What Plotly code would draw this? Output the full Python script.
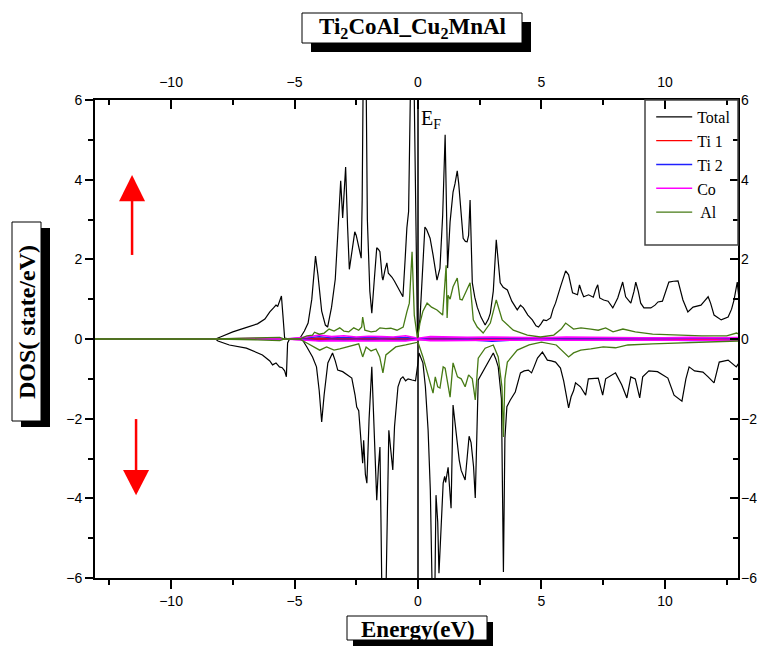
import plotly.graph_objects as go

# ---------------- data ----------------
e_tot_up = [-13.1, -8.2, -8.0, -7.5, -7.0, -6.5, -6.2, -6.0, -5.85, -5.75, -5.68, -5.6, -5.53, -5.47, -5.4, -5.2,
            -4.8, -4.6, -4.45, -4.3, -4.2, -4.15, -4.05, -3.9, -3.75, -3.66, -3.5, -3.35, -3.25, -3.13, -3.05,
            -2.93, -2.85, -2.78, -2.65, -2.56, -2.5, -2.44, -2.36, -2.3, -2.26, -2.22, -2.1, -2.05, -1.95, -1.87,
            -1.78, -1.67, -1.6, -1.54, -1.45, -1.42, -1.33, -1.26, -1.2, -1.14, -1.05, -0.95, -0.8, -0.7, -0.61,
            -0.52, -0.45, -0.38, -0.3, -0.16, -0.1, -0.02, 0.08, 0.18, 0.28, 0.35, 0.49, 0.61, 0.77, 0.89, 1.0,
            1.1, 1.16, 1.2, 1.3, 1.36, 1.42, 1.5, 1.59, 1.65, 1.71, 1.83, 1.92, 1.99, 2.05, 2.11, 2.2, 2.3, 2.4,
            2.55, 2.72, 2.85, 2.93, 3.05, 3.17, 3.25, 3.33, 3.45, 3.62, 3.8, 4.02, 4.15, 4.27, 4.45, 4.63, 4.78,
            4.88, 4.98, 5.08, 5.2, 5.37, 5.47, 5.57, 5.77, 5.9, 5.98, 6.1, 6.18, 6.26, 6.46, 6.54, 6.62, 6.71,
            6.91, 7.1, 7.2, 7.28, 7.36, 7.52, 7.7, 7.89, 8.09, 8.2, 8.29, 8.41, 8.62, 8.75, 8.82, 8.92, 9.02,
            9.15, 9.43, 9.6, 9.72, 9.9, 10.05, 10.16, 10.35, 10.53, 10.73, 10.93, 11.14, 11.46, 11.6, 11.75,
            11.85, 11.99, 12.28, 12.56, 12.7, 12.8, 12.93, 13.0]
dos_tot_up = [0, 0, 0.05, 0.18, 0.28, 0.38, 0.5, 0.68, 0.78, 0.85, 0.82, 0.95, 1.08, 0.6, 0.02, 0,
              0, 0.2, 0.4, 1.0, 1.8, 2.08, 1.6, 0.7, 0.35, 0.3, 0.8, 1.5, 2.6, 3.97, 3.04,
              4.32, 2.8, 1.75, 2.3, 2.69, 2.6, 2.44, 2.2, 2.03, 3.5, 6.5, 6.5, 3.0, 1.2, 0.65,
              1.4, 2.29, 2.25, 2.19, 1.55, 1.48, 1.75, 1.91, 1.65, 1.61, 1.55, 1.45, 1.28, 1.15, 1.06,
              2.0, 2.79, 3.2, 6.5, 6.5, 3.0, 0.05, 0.5, 1.8, 2.81, 2.75, 2.53, 2.11, 1.48, 1.78, 3.1,
              5.13, 2.5, 1.78, 2.94, 3.4, 3.69, 3.9, 4.22, 3.9, 3.37, 2.53, 2.45, 2.44, 2.6, 3.49, 1.41, 1.05, 0.8,
              0.55, 0.35, 0.5, 0.65, 1.2, 2.49, 2.0, 1.41, 1.3, 1.23, 0.95, 0.73, 0.85, 0.78, 0.6, 0.48, 0.33,
              0.3, 0.38, 0.48, 0.46, 0.53, 0.75, 0.9, 1.31, 1.55, 1.71, 1.61, 1.4, 1.16, 1.11, 1.36, 1.2, 1.06,
              1.11, 1.05, 1.25, 1.36, 1.03, 0.98, 0.95, 0.78, 1.03, 1.25, 1.43, 1.06, 0.9, 1.2, 1.43, 1.2, 0.9,
              0.78, 0.78, 0.85, 0.93, 0.95, 1.25, 1.43, 1.45, 1.46, 0.98, 0.68, 0.8, 0.85, 0.95, 1.06,
              0.9, 0.6, 0.48, 0.55, 0.75, 0.98, 1.43, 1.0]

e_tot_dn = [-13.1, -8.2, -8.1, -7.64, -6.95, -6.3, -6.0, -5.89, -5.75, -5.61, -5.5, -5.4, -5.33, -5.28, -5.2,
            -4.7, -4.5, -4.27, -4.11, -4.0, -3.9, -3.8, -3.65, -3.46, -3.35, -3.25, -3.05, -2.85, -2.68, -2.55,
            -2.48, -2.4, -2.3, -2.24, -2.2, -2.13, -2.07, -1.98, -1.87, -1.77, -1.67, -1.6, -1.54, -1.5, -1.46,
            -1.3, -1.26, -1.22, -1.18, -1.1, -1.02, -0.95, -0.81, -0.7, -0.61, -0.5, -0.4, -0.24, -0.1, 0.0,
            0.04, 0.2, 0.3, 0.41, 0.5, 0.58, 0.68, 0.73, 0.8, 0.85, 0.95, 1.02, 1.08, 1.12, 1.22, 1.34, 1.42,
            1.55, 1.67, 1.75, 1.91, 2.07, 2.15, 2.25, 2.32, 2.44, 2.6, 2.8, 2.95, 3.05, 3.15, 3.25, 3.38, 3.46,
            3.52, 3.6, 3.74, 3.94, 4.15, 4.3, 4.47, 4.6, 4.7, 4.84, 5.04, 5.24, 5.4, 5.57, 5.77, 5.9, 6.1, 6.2,
            6.3, 6.38, 6.58, 6.79, 6.9, 7.11, 7.3, 7.48, 7.6, 8.0, 8.25, 8.46, 8.62, 8.8, 8.98, 9.1, 9.35, 9.7,
            10.12, 10.37, 10.69, 10.85, 10.98, 11.2, 11.54, 11.75, 11.99, 12.2, 12.56, 12.89, 13.0]
dos_tot_dn = [0, 0, -0.05, -0.15, -0.23, -0.4, -0.55, -0.65, -0.6, -0.7, -0.72, -0.8, -0.95, -0.1, 0,
              0, -0.2, -0.45, -0.7, -1.3, -2.08, -1.4, -0.6, -0.35, -0.55, -0.78, -0.82, -0.9, -0.98, -1.4,
              -1.71, -1.8, -2.5, -3.12, -2.54, -3.4, -3.62, -2.0, -0.7, -2.5, -4.05, -3.2, -2.71, -4.5, -6.5,
              -6.5, -5.05, -4.0, -2.29, -2.8, -3.29, -2.2, -1.2, -1.0, -0.95, -1.05, -1.0, -1.03, -1.05, -0.6,
              -0.35, -0.6, -1.2, -2.29, -3.8, -6.5, -6.5, -3.92, -4.6, -5.88, -4.5, -3.62, -3.45, -3.6, -3.22, -4.25, -1.66,
              -2.4, -3.04, -3.3, -3.54, -2.44, -2.6, -3.2, -3.99, -1.03, -0.85, -0.65, -0.45, -0.35, -0.5, -0.7, -1.5, -5.85,
              -2.5, -1.7, -1.53, -1.33, -0.85, -0.8, -0.78, -0.85, -0.7, -0.48, -0.33, -0.53, -0.55, -0.58, -0.73, -1.05, -1.73, -1.45,
              -1.3, -1.1, -1.2, -1.41, -1.0, -0.98, -0.98, -1.41, -1.0, -0.85, -1.15, -1.48, -0.95, -1.0, -1.48, -0.95, -0.8, -0.82,
              -0.98, -1.41, -1.56, -1.0, -0.7, -0.8, -0.83, -0.95, -1.1, -0.58, -0.53, -0.7, -0.6]

e_al_up = [-13.1, -8.2, -7.0, -5.6, -5.4, -4.8, -4.5, -4.27, -4.19, -4.0, -3.8, -3.6, -3.4, -3.17, -3.0, -2.8,
           -2.6, -2.4, -2.28, -2.24, -2.15, -1.9, -1.7, -1.54, -1.3, -1.1, -0.85, -0.6, -0.45, -0.35, -0.24,
           -0.15, -0.02, 0.08, 0.2, 0.37, 0.55, 0.77, 1.0, 1.14, 1.18, 1.22, 1.3, 1.42, 1.59, 1.7, 1.79, 1.99,
           2.11, 2.24, 2.4, 2.64, 2.93, 3.17, 3.41, 3.86, 4.43, 4.96, 5.5, 5.8, 5.98, 6.3, 6.6, 7.0, 7.3, 7.6,
           7.9, 8.3, 8.8, 9.5, 10.5, 11.5, 12.5, 12.9, 13.0]
dos_al_up = [0, 0, 0.02, 0.04, 0.0, 0.0, 0.08, 0.1, 0.17, 0.12, 0.15, 0.25, 0.2, 0.28, 0.2, 0.18,
             0.28, 0.22, 0.3, 0.55, 0.22, 0.18, 0.2, 0.28, 0.26, 0.27, 0.22, 0.3, 0.68, 0.9, 2.19,
             0.6, 0.02, 0.4, 0.7, 0.9, 0.8, 0.73, 0.6, 1.85, 0.53, 1.1, 1.0, 1.31, 1.53, 1.0, 0.98, 1.23,
             1.41, 0.48, 0.3, 0.15, 0.4, 0.98, 0.48, 0.22, 0.1, 0.05, 0.1, 0.25, 0.4, 0.25, 0.28, 0.25, 0.22, 0.28,
             0.18, 0.25, 0.18, 0.12, 0.1, 0.08, 0.08, 0.15, 0.12]

e_al_dn = [-13.1, -8.2, -6.5, -5.6, -5.4, -4.8, -4.5, -4.2, -3.98, -3.7, -3.4, -3.17, -2.9, -2.6, -2.4, -2.24,
           -2.1, -1.9, -1.7, -1.55, -1.42, -1.3, -1.1, -0.9, -0.5, -0.1, 0.0, 0.2, 0.35, 0.45, 0.61, 0.7, 0.8,
           0.89, 1.02, 1.1, 1.3, 1.42, 1.6, 1.75, 1.91, 2.05, 2.2, 2.32, 2.44, 2.72, 3.05, 3.25, 3.4, 3.46,
           3.52, 3.62, 4.02, 4.5, 5.0, 5.6, 6.1, 6.3, 6.59, 7.0, 7.5, 8.0, 8.5, 9.5, 10.5, 11.5, 12.5, 13.0]
dos_al_dn = [0, 0, -0.02, -0.04, 0, 0, -0.1, -0.2, -0.28, -0.2, -0.28, -0.25, -0.2, -0.15, -0.12, -0.45,
             -0.2, -0.3, -0.25, -0.45, -0.85, -0.4, -0.3, -0.2, -0.15, -0.1, -0.08, -0.45, -0.8, -1.0, -1.36, -0.95, -1.2,
             -1.23, -0.7, -0.73, -1.46, -0.6, -0.95, -1.0, -1.2, -0.9, -1.0, -1.53, -0.48, -0.23, -0.15, -0.45, -1.2, -2.46,
             -1.0, -0.58, -0.28, -0.15, -0.08, -0.15, -0.45, -0.35, -0.28, -0.25, -0.2, -0.22, -0.15, -0.12, -0.1, -0.08, -0.06, -0.05]

e_small = [-13.1, -8.2, -6.0, -5.4, -4.5, -4.0, -3.5, -3.0, -2.5, -2.0, -1.5, -1.0, -0.5, 0.0, 0.5, 1.0,
           2.0, 3.0, 4.0, 5.0, 6.0, 7.0, 8.0, 9.0, 10.0, 11.0, 12.0, 13.0]
ti1_up = [0, 0, 0.01, 0, 0.02, 0.03, 0.02, 0.03, 0.02, 0.03, 0.02, 0.02, 0.03, 0.01, 0.02, 0.02,
          0.02, 0.02, 0.01, 0.01, 0.02, 0.01, 0.01, 0.01, 0.01, 0.01, 0.01, 0.01]
ti1_dn = [0, 0, -0.01, 0, -0.02, -0.02, -0.02, -0.02, -0.02, -0.03, -0.02, -0.02, -0.02, -0.01, -0.02, -0.02,
          -0.02, -0.01, -0.01, -0.01, -0.01, -0.01, -0.01, -0.01, -0.01, -0.01, -0.01, -0.01]
ti2_up = [0, 0, 0.01, 0, 0.03, 0.06, 0.03, 0.04, 0.03, 0.04, 0.03, 0.03, 0.04, 0.01, 0.03, 0.03,
          0.02, 0.02, 0.02, 0.02, 0.02, 0.02, 0.02, 0.02, 0.02, 0.03, 0.03, 0.02]
ti2_dn = [0, 0, -0.01, 0, -0.02, -0.04, -0.03, -0.03, -0.03, -0.04, -0.03, -0.03, -0.03, -0.01, -0.03, -0.03,
          -0.02, -0.06, -0.02, -0.02, -0.02, -0.02, -0.02, -0.02, -0.03, -0.04, -0.04, -0.02]
co_up = [0, 0, 0.02, 0, 0.05, 0.1, 0.06, 0.08, 0.05, 0.07, 0.06, 0.05, 0.08, 0.02, 0.06, 0.05,
         0.04, 0.05, 0.04, 0.03, 0.05, 0.04, 0.04, 0.03, 0.03, 0.04, 0.03, 0.04]
co_dn = [0, 0, -0.01, 0, -0.03, -0.05, -0.04, -0.05, -0.04, -0.05, -0.04, -0.04, -0.05, -0.01, -0.04, -0.04,
         -0.03, -0.03, -0.03, -0.02, -0.03, -0.03, -0.03, -0.02, -0.02, -0.03, -0.02, -0.03]

series_names = ["Total", "Ti 1", "Ti 2", "Co", " Al"]
x_ticks = [-10, -5, 0, 5, 10]
y_ticks = [-6, -4, -2, 0, 2, 4, 6]

# ---------------- figure ----------------
def joined(e_up, v_up, e_dn, v_dn):
    return list(e_up) + [None] + list(e_dn), list(v_up) + [None] + list(v_dn)

colors = ["#000000", "#ff0000", "#2020ff", "#ff00ff", "#467a14"]
widths = [1.2, 1.3, 1.3, 1.6, 1.3]
data_sets = [
    joined(e_tot_up, dos_tot_up, e_tot_dn, dos_tot_dn),
    joined(e_small, ti1_up, e_small, ti1_dn),
    joined(e_small, ti2_up, e_small, ti2_dn),
    joined(e_small, co_up, e_small, co_dn),
    joined(e_al_up, dos_al_up, e_al_dn, dos_al_dn),
]

fig = go.Figure()
for name, (xs, ys), c, w in zip(series_names, data_sets, colors, widths):
    fig.add_trace(go.Scatter(x=xs, y=ys, mode="lines", name=name,
                             line=dict(color=c, width=w), connectgaps=False))

# dummy trace for the top / right axes
fig.add_trace(go.Scatter(x=[None], y=[None], xaxis="x2", yaxis="y2",
                         showlegend=False, hoverinfo="skip"))

XR = [-13.08, 12.96]
YR = [-6, 6]
tickfont = dict(family="Liberation Sans, Arial", size=14, color="black")
minor_x = [-12.5, -7.5, -2.5, 2.5, 7.5, 12.5]
minor_y = [-5, -3, -1, 1, 3, 5]

# the page body adds an 8 px offset; margins compensate so the plot area sits at
# screen x 95..738, y 100..578
fig.update_layout(
    width=765, height=653,
    margin=dict(l=87, r=35, t=92, b=83),
    paper_bgcolor="white", plot_bgcolor="white",
    showlegend=True,
    legend=dict(x=0.865, y=1.0, xanchor="left", yanchor="top", itemwidth=36,
                bgcolor="rgba(0,0,0,0)", borderwidth=0,
                font=dict(family="Liberation Serif, Times New Roman", size=16, color="black")),
    xaxis=dict(range=XR, tickvals=x_ticks, ticks="outside", ticklen=9, tickwidth=1.5,
               tickcolor="black", showline=True, linecolor="black", linewidth=2, mirror=True,
               showgrid=False, zeroline=True, zerolinecolor="#3a3a3a", zerolinewidth=1.5,
               minor=dict(tickvals=minor_x, ticks="outside", ticklen=5,
                          tickwidth=1.5, tickcolor="black"),
               tickfont=tickfont),
    yaxis=dict(range=YR, tickvals=y_ticks, ticks="outside", ticklen=8, tickwidth=1.5,
               tickcolor="black", showline=True, linecolor="black", linewidth=2, mirror=True,
               showgrid=False, zeroline=True, zerolinecolor="#4a4760", zerolinewidth=2,
               minor=dict(tickvals=minor_y, ticks="outside", ticklen=5,
                          tickwidth=1.5, tickcolor="black"),
               tickfont=tickfont),
    xaxis2=dict(range=XR, overlaying="x", side="top", anchor="y", tickvals=x_ticks,
                ticks="inside", ticklen=9, tickwidth=1.5, tickcolor="black",
                showline=False, showgrid=False, zeroline=False, ticklabelstandoff=9,
                minor=dict(tickvals=minor_x, ticks="inside", ticklen=5,
                           tickwidth=1.5, tickcolor="black"),
                tickfont=tickfont),
    yaxis2=dict(range=YR, overlaying="y", side="right", anchor="x", tickvals=y_ticks,
                ticks="inside", ticklen=8, tickwidth=1.5, tickcolor="black",
                showline=False, showgrid=False, zeroline=False, ticklabelstandoff=2,
                minor=dict(tickvals=minor_y, ticks="inside", ticklen=5,
                           tickwidth=1.5, tickcolor="black"),
                tickfont=tickfont),
)

def px2x(px):
    return (px - 95) / 643.0

def py2y(py):
    return (578 - py) / 478.0

shapes = []
# legend border
shapes.append(dict(type="rect", xref="paper", yref="paper",
                   x0=px2x(645), x1=1.0, y0=py2y(245), y1=1.0,
                   line=dict(color="#444444", width=1.5), fillcolor="rgba(0,0,0,0)", layer="above"))

def boxed(x0, y0, x1, y1, dx, dy):
    # shadow + white box (screen pixel coordinates)
    shapes.append(dict(type="rect", xref="paper", yref="paper",
                       x0=px2x(x0 + dx), x1=px2x(x1 + dx), y0=py2y(y1 + dy), y1=py2y(y0 + dy),
                       line=dict(width=0), fillcolor="black", layer="above"))
    shapes.append(dict(type="rect", xref="paper", yref="paper",
                       x0=px2x(x0), x1=px2x(x1), y0=py2y(y1), y1=py2y(y0),
                       line=dict(color="black", width=1), fillcolor="white", layer="above"))

boxed(302, 13, 522, 43, 9, 9)     # title
boxed(347, 616, 487, 640, 6, 6)   # x label
boxed(12, 222, 41, 421, 9, 6)     # y label

# small marker at the top
shapes.append(dict(type="path", xref="paper", yref="paper",
                   path=f"M {px2x(393)},{py2y(0)} L {px2x(401)},{py2y(0)} L {px2x(397)},{py2y(6)} Z",
                   fillcolor="black", line=dict(width=0), layer="above"))

# red spin arrows (decoration)
ax_up = (132 - 418) / 24.7
shapes.append(dict(type="line", xref="x", yref="y", x0=ax_up, x1=ax_up, y0=2.11, y1=3.5,
                   line=dict(color="red", width=2.5)))
shapes.append(dict(type="path", xref="x", yref="y",
                   path=f"M {(119-418)/24.7},3.46 L {(145-418)/24.7},3.46 L {ax_up},4.12 Z",
                   fillcolor="red", line=dict(width=0)))
ax_dn = (136 - 418) / 24.7
shapes.append(dict(type="line", xref="x", yref="y", x0=ax_dn, x1=ax_dn, y0=-2.01, y1=-3.3,
                   line=dict(color="red", width=2.5)))
shapes.append(dict(type="path", xref="x", yref="y",
                   path=f"M {(123-418)/24.7},-3.29 L {(149-418)/24.7},-3.29 L {ax_dn},-3.92 Z",
                   fillcolor="red", line=dict(width=0)))

fig.update_layout(shapes=shapes)

fig.add_annotation(text="<b>Ti<sub>2</sub>CoAl_Cu<sub>2</sub>MnAl</b>", xref="paper", yref="paper",
                   x=px2x(412), y=py2y(28), showarrow=False,
                   font=dict(family="Liberation Serif, Times New Roman", size=23, color="black"),
                   xanchor="center", yanchor="middle")
fig.add_annotation(text="<b>Energy(eV)</b>", xref="paper", yref="paper",
                   x=px2x(418), y=py2y(629), showarrow=False,
                   font=dict(family="Liberation Serif, Times New Roman", size=23, color="black"),
                   xanchor="center", yanchor="middle")
fig.add_annotation(text="<b>DOS( state/eV)</b>", xref="paper", yref="paper",
                   x=px2x(27), y=py2y(322), showarrow=False, textangle=-90,
                   font=dict(family="Liberation Serif, Times New Roman", size=24, color="black"),
                   xanchor="center", yanchor="middle")
fig.add_annotation(text="E<sub>F</sub>", xref="x", yref="y", x=0.05, y=5.5,
                   showarrow=False, xanchor="left", yanchor="middle",
                   font=dict(family="Liberation Serif, Times New Roman", size=20, color="black"))

fig.write_html("out.html")
